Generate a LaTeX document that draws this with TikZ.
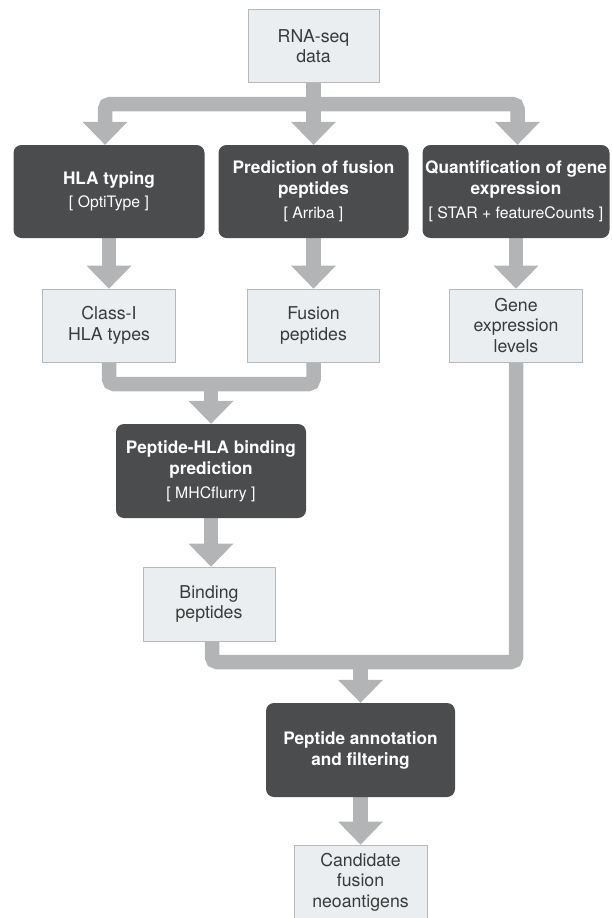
\documentclass[tikz,border=0pt]{standalone}
\usepackage{fontspec}
\setmainfont{TeX Gyre Heros}
\usetikzlibrary{arrows.meta,backgrounds}
\definecolor{boxdark}{HTML}{4B4C4E}
\definecolor{lightfill}{HTML}{EBEEF0}
\definecolor{lightline}{HTML}{B7BABC}
\definecolor{pipegray}{HTML}{B3B4B6}
\definecolor{lighttext}{HTML}{3A3A3A}
\newcommand{\subtxt}[1]{{\fontsize{15.8}{18}\selectfont\mdseries #1}}
\begin{document}
\begin{tikzpicture}[x=1pt,y=-1pt,
  lightbox/.style={draw=lightline, line width=0.8pt, fill=lightfill, text=lighttext,
    align=center, inner sep=0pt, minimum width=132pt, minimum height=73pt,
    font=\fontsize{17.7}{20.5}\selectfont},
  darkbox/.style={fill=boxdark, rounded corners=8pt, text=white, align=center,
    inner sep=0pt, minimum height=93pt, font=\fontsize{17.2}{21}\selectfont\bfseries},
  pipe/.style={draw=pipegray, line width=14.5pt, rounded corners=5pt},
  tipped/.style={-{Triangle[width=45pt,length=23pt,line width=0pt]}}]
\useasboundingbox (0,0) rectangle (612,918);

\node[lightbox, minimum width=131pt] (rna) at (313.5,46) {RNA-seq\\data};
\node[darkbox, minimum width=191pt] (hla) at (109,191.5) {HLA typing\\[2pt]\subtxt{[ OptiType ]}};
\node[darkbox, minimum width=190pt] (pred) at (313.5,191.5) {Prediction of fusion\\peptides\\[3pt]\subtxt{[ Arriba ]}};
\node[darkbox, minimum width=187pt] (quant) at (516,191.5) {Quantification of gene\\expression\\[3pt]\subtxt{[ STAR + featureCounts ]}};
\node[lightbox, minimum width=133pt] (class) at (109,325.5) {Class-I\\HLA types};
\node[lightbox] (fusion) at (313.5,325.5) {Fusion\\peptides};
\node[lightbox, minimum width=133pt] (gene) at (516,325.5) {Gene\\expression\\levels};
\node[darkbox, minimum width=190pt, minimum height=94pt] (bind) at (211,471) {Peptide-HLA binding\\prediction\\[3pt]\subtxt{[ MHCflurry ]}};
\node[lightbox, minimum height=74pt] (bpep) at (209,604) {Binding\\peptides};
\node[darkbox, minimum width=189pt, minimum height=94pt] (annot) at (360.5,750) {Peptide annotation\\and filtering};
\node[lightbox, minimum width=133pt, minimum height=74pt] (cand) at (360.5,882) {Candidate\\fusion\\neoantigens};

\coordinate (j1) at (313.5,104);
\coordinate (j2) at (211,384);
\coordinate (j3) at (360.5,662);

\begin{scope}[on background layer]
\draw[pipe] (rna.south) -- (j1);
\draw[pipe,tipped] (j1) -| ([xshift=-4pt]hla.north);
\draw[pipe,tipped] (j1) -- (pred.north);
\draw[pipe,tipped] (j1) -| ([xshift=1.5pt]quant.north);
\draw[pipe,tipped] (hla.south) -- (class.north);
\draw[pipe,tipped] (pred.south) -- (fusion.north);
\draw[pipe,tipped] (quant.south) -- (gene.north);
\draw[pipe] (class.south) |- (j2) -| (fusion.south);
\draw[pipe,tipped] (j2) -- (bind.north);
\draw[pipe,tipped] ([xshift=2pt]bpep.north |- bind.south) -- ([xshift=2pt]bpep.north);
\draw[pipe] ([xshift=3pt]bpep.south) |- (j3) -| (gene.south);
\draw[pipe,tipped] (j3) -- (annot.north);
\draw[pipe,tipped] (annot.south) -- (cand.north);
\end{scope}
\end{tikzpicture}
\end{document}
